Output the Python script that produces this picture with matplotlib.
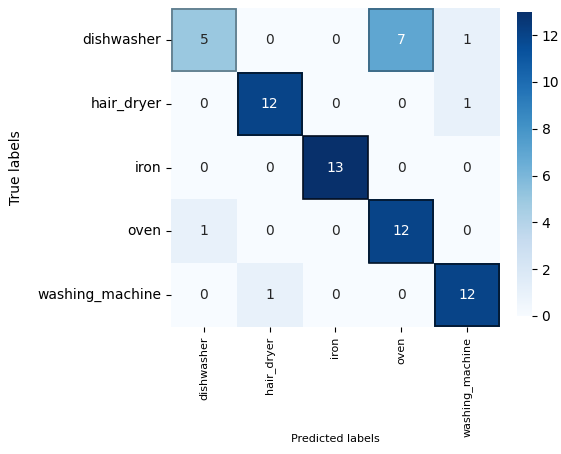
import numpy as np
import matplotlib.pyplot as plt
import seaborn as sns
from matplotlib.patches import Rectangle
import matplotlib.colors as mcolors

labels = ['dishwasher', 'hair_dryer', 'iron', 'oven', 'washing_machine']
cm = np.array([
    [5, 0, 0, 7, 1],
    [0, 12, 0, 0, 1],
    [0, 0, 13, 0, 0],
    [1, 0, 0, 12, 0],
    [0, 1, 0, 0, 12],
])

fig = plt.figure(figsize=(5.61, 4.54), dpi=100)
ax = fig.add_axes([0.305, 0.280, 0.586, 0.702])
cax = fig.add_axes([0.921, 0.304, 0.027, 0.670])

sns.heatmap(cm, annot=True, fmt='d', cmap='Blues', ax=ax, cbar_ax=cax,
            xticklabels=labels, yticklabels=labels, annot_kws={'fontsize': 10})

# dark outline around coloured cells
cmap = plt.get_cmap('Blues')
norm = mcolors.Normalize(vmin=cm.min(), vmax=cm.max())
for i in range(cm.shape[0]):
    for j in range(cm.shape[1]):
        if cm[i, j] > 2:
            r, g, b, _ = cmap(norm(cm[i, j]))
            k = 0.3 if cm[i, j] > 9 else 0.6
            ec = (r * k, g * k, b * k)
            ax.add_patch(Rectangle((j + 0.01, i + 0.01), 0.98, 0.98, fill=False,
                                   edgecolor=ec, linewidth=1.2))

ax.set_xlabel('Predicted labels', fontsize=8)
ax.xaxis.set_label_coords(0.5, -0.335)
ax.set_ylabel('True labels', fontsize=10, labelpad=10)
ax.tick_params(axis='x', labelsize=8, rotation=90)
ax.tick_params(axis='y', labelsize=10, rotation=0)
cax.tick_params(labelsize=10)
cax.set_yticks([0, 2, 4, 6, 8, 10, 12])

fig.savefig('out.png', dpi=100)
